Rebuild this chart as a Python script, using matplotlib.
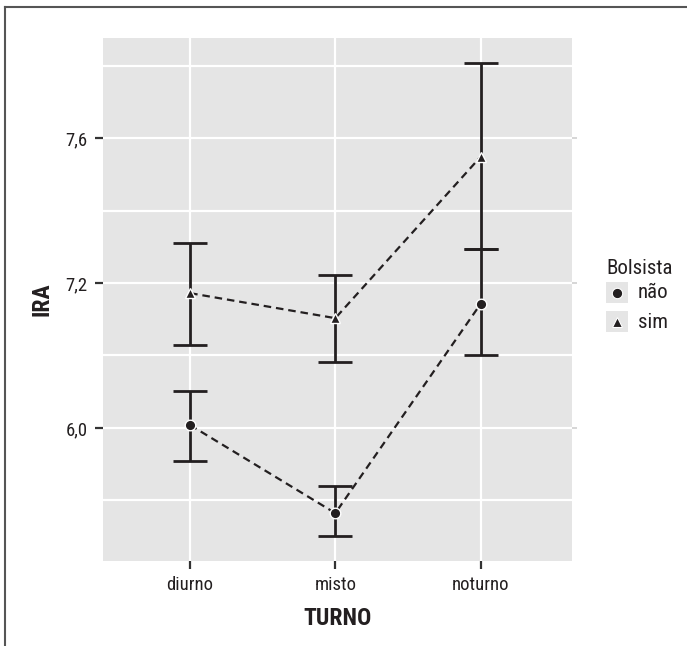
import matplotlib
matplotlib.use("Agg")
import matplotlib.pyplot as plt
from matplotlib.lines import Line2D
from matplotlib.patches import Rectangle

plt.rcParams['font.family'] = ['Roboto Condensed', 'DejaVu Sans']

categories = ['diurno', 'misto', 'noturno']
groups = ['não', 'sim']
nao_mean = [6.808, 6.565, 7.142]
nao_lo = [6.709, 6.502, 7.001]
nao_hi = [6.902, 6.640, 7.295]
sim_mean = [7.172, 7.103, 7.548]
sim_lo = [7.029, 6.982, 7.295]
sim_hi = [7.310, 7.222, 7.807]
ytick_pos = [6.8, 7.2, 7.6]
ytick_labels = ['6,0', '7,2', '7,6']
minor_pos = [6.6, 7.0, 7.4, 7.8]

W, H = 687, 646
fig = plt.figure(figsize=(W/100, H/100), dpi=100)
ax = fig.add_axes([103/W, 1-561/H, (572-103)/W, (561-38)/H])
ax.set_facecolor('#e5e5e5')
for s in ax.spines.values():
    s.set_visible(False)

x = list(range(1, len(categories)+1))
ax.set_xlim(0.4, 3.63)
ax.set_ylim(6.433, 7.876)

for yv in ytick_pos + minor_pos:
    ax.axhline(yv, color='white', lw=1.6, zorder=1)
for xv in x:
    ax.axvline(xv, color='white', lw=1.6, zorder=1)
ax.hlines(ytick_pos, 3.63, 3.665, color='#cfcfcf', lw=1.2, clip_on=False, zorder=1)

ecol = '#231f20'
for mean, lo, hi, mk, ms in [(nao_mean, nao_lo, nao_hi, 'o', 7.6), (sim_mean, sim_lo, sim_hi, '^', 7.6)]:
    yerr = [[m - l for m, l in zip(mean, lo)], [h - m for m, h in zip(mean, hi)]]
    ax.errorbar(x, mean, yerr=yerr, fmt='none', ecolor=ecol, elinewidth=2,
                capsize=12.3, capthick=2, zorder=3)
    ax.plot(x, mean, ls=(0, (3.4, 2.2)), color=ecol, lw=1.6, zorder=4)
    ax.plot(x, mean, ls='none', marker=mk, markersize=ms, markerfacecolor=ecol,
            markeredgecolor='white', markeredgewidth=1, zorder=5)

ax.set_xticks(x)
ax.set_xticklabels(categories)
ax.set_yticks(ytick_pos)
ax.set_yticklabels(ytick_labels)
ax.tick_params(axis='both', length=6, width=1.6, color='#333333', labelsize=13.5,
               labelcolor='#231f20')
ax.tick_params(axis='x', pad=5)
ax.tick_params(axis='y', pad=5)
ax.set_xlabel('TURNO', fontsize=17, fontweight='bold', color='#231f20', labelpad=9)
ax.set_ylabel('IRA', fontsize=17, fontweight='bold', color='#231f20', labelpad=9)

# legend (manual, ggplot-style keys)
fig.text(606/W, 1-268/H, 'Bolsista', fontsize=15, color='#231f20', va='center', ha='left')
keys = [(282, 'o', 7.5), (311, '^', 7)]
for (ky, mk, ms), lab in zip(keys, groups):
    fig.add_artist(Rectangle((606/W, 1-(ky+21)/H), 22/W, 21/H, transform=fig.transFigure,
                             facecolor='#e5e5e5', edgecolor='none'))
    fig.add_artist(Line2D([617/W], [1-(ky+10.5)/H], transform=fig.transFigure, ls='none',
                          marker=mk, markersize=ms, markerfacecolor=ecol, markeredgecolor='white',
                          markeredgewidth=0.8))
    fig.text(638/W, 1-(ky+11)/H, lab, fontsize=15, color='#231f20', va='center', ha='left')

# frame lines
fig.add_artist(Line2D([5/W, 5/W], [0, 1-7/H], transform=fig.transFigure, color='#555555', lw=1.5))
fig.add_artist(Line2D([5/W, 1], [1-7/H, 1-7/H], transform=fig.transFigure, color='#555555', lw=1.5))

fig.savefig('out.png', dpi=100)
